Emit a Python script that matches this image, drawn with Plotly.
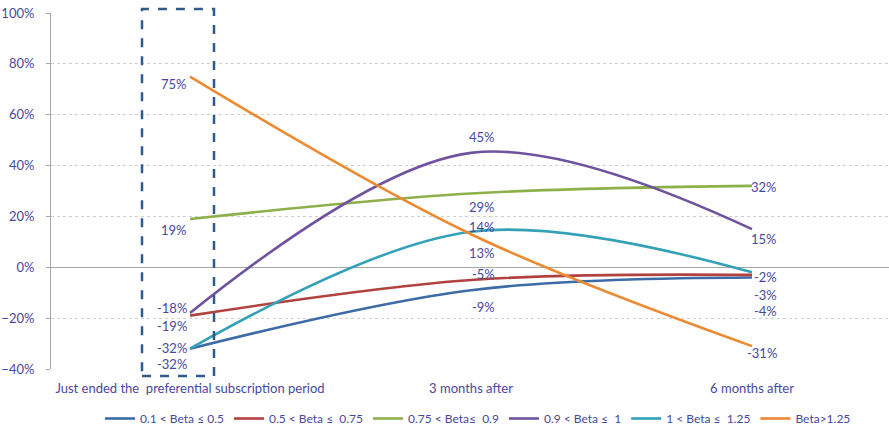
import plotly.graph_objects as go

# Periods on the category axis
periods = ["Just ended the  preferential subscription period", "3 months after", "6 months after"]

# Average return (%) per beta group
beta_01_05 = [-32, -9, -4]
beta_05_075 = [-19, -5, -3]
beta_075_09 = [19, 29, 32]
beta_09_1 = [-18, 45, 15]
beta_1_125 = [-32, 14, -2]
beta_gt_125 = [75, 13, -31]

series_names = ["0.1 < Beta ≤ 0.5", "0.5 < Beta ≤  0.75", "0.75 < Beta≤  0.9",
                "0.9 < Beta ≤  1", "1 < Beta ≤  1.25", "Beta>1.25"]
series_values = [beta_01_05, beta_05_075, beta_075_09, beta_09_1, beta_1_125, beta_gt_125]
colors = ["#3D6BA7", "#B2423F", "#8DB04B", "#70539F", "#34A1B8", "#EC8A32"]

# Vertical pixel nudges for the value labels (down = positive), per series and period
label_dy = [
    [15, 17, 34],
    [10, -6, 20],
    [11, 13, 1],
    [-5, -16, 10],
    [-1, -5, 5],
    [7, 19, 7],
]
label_dx = [-1, 26, 27]

label_color = "#4848A0"
font_family = "Lato, 'Liberation Sans', sans-serif"

xs = list(range(len(periods)))

fig = go.Figure()
for name, vals, col in zip(series_names, series_values, colors):
    fig.add_trace(go.Scatter(
        x=xs, y=vals, name=name, mode="lines",
        line=dict(color=col, width=2.6, shape="spline", smoothing=1.0),
        hoverinfo="skip",
    ))

annotations = []
for vals, dys in zip(series_values, label_dy):
    for i, (v, dy) in enumerate(zip(vals, dys)):
        annotations.append(dict(
            x=i, y=v, xref="x", yref="y", text=f"{v}%", showarrow=False,
            xanchor="right", yanchor="middle", xshift=label_dx[i], yshift=-dy,
            font=dict(family=font_family, size=13, color=label_color),
        ))

# Dashed box around the first period
W, H = 889, 433
ml, mr, mt, mb = 51, 0, 13, 61
pw, ph = W - ml - mr, H - mt - mb
def px(xp):
    return (xp - ml) / pw
def py(yp):
    return (H - mb - yp) / ph

fig.update_layout(
    width=W, height=H,
    margin=dict(l=ml, r=mr, t=mt, b=mb),
    paper_bgcolor="white", plot_bgcolor="white",
    font=dict(family=font_family, color=label_color),
    showlegend=True,
    legend=dict(orientation="h", x=px(478), xanchor="center", y=py(422), yanchor="middle",
                font=dict(family=font_family, size=12, color=label_color),
                itemwidth=30, tracegroupgap=0),
    annotations=annotations,
    shapes=[dict(type="rect", xref="paper", yref="paper",
                 x0=px(142), x1=px(214), y0=py(379), y1=py(9),
                 line=dict(color="#2F5B8C", width=2.5, dash="dash"),
                 fillcolor="rgba(0,0,0,0)", layer="above")],
    xaxis=dict(range=[-0.4947, 2.4875], tickmode="array", tickvals=xs, ticktext=periods,
               showgrid=False, zeroline=False, showline=False, ticks="",
               ticklabelstandoff=10,
               tickfont=dict(family=font_family, size=13, color=label_color)),
    yaxis=dict(range=[-40, 100], dtick=20, ticksuffix="%",
               showgrid=True, gridcolor="#CFCFCF", griddash="dot", gridwidth=1,
               zeroline=True, zerolinecolor="#A6A6A6", zerolinewidth=1.2,
               showline=True, linecolor="#A6A6A6", linewidth=1,
               ticks="outside", ticklen=4, tickcolor="#A6A6A6",
               ticklabelstandoff=9,
               tickfont=dict(family=font_family, size=13, color=label_color)),
)

fig.write_html("out.html")
